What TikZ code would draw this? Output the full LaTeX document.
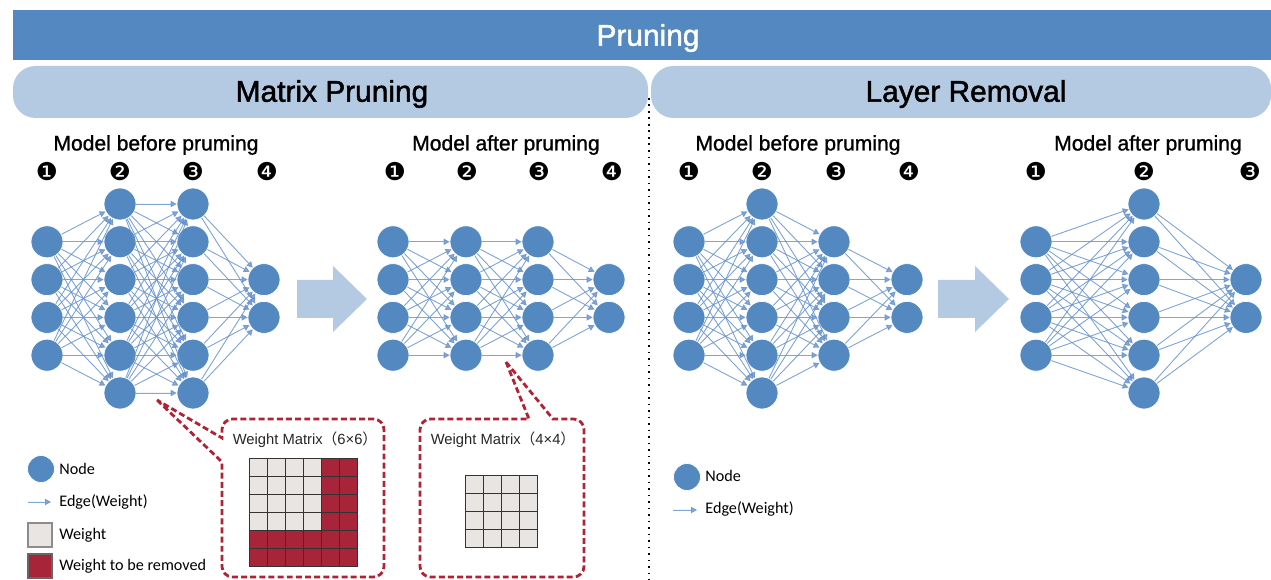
\documentclass[tikz,border=0pt]{standalone}
\usepackage{fontspec}
\setmainfont{Liberation Sans}
\newfontfamily\headfont[FakeBold=1.6]{Liberation Sans}
\newfontfamily\medfont[FakeBold=1.1]{Liberation Sans}
\newfontfamily\dingfont{DejaVu Sans}
\newfontfamily\legendfont{Carlito}
\newfontfamily\cjkfont{Noto Sans CJK SC}
\usetikzlibrary{arrows.meta}

\definecolor{barblue}{RGB}{83,137,192}
\definecolor{pillblue}{RGB}{179,202,226}
\definecolor{edgeblue}{RGB}{100,145,205}
\definecolor{calloutred}{RGB}{178,34,52}
\definecolor{cellred}{RGB}{168,36,56}
\definecolor{cellgrey}{RGB}{232,229,226}

\tikzset{
	unit/.style={circle, fill=barblue, draw=white, line width=0.4pt, minimum size=0.64cm, inner sep=0pt},
	edge/.style={-{Triangle[length=3.4pt,width=3.6pt]}, draw=edgeblue, fill=edgeblue, line width=0.5pt, opacity=0.8},
	callout/.style={calloutred, line width=1.6pt, dash pattern=on 3.4pt off 1.8pt},
	cell/.style={draw=black!80, line width=0.5pt},
	head/.style={font=\headfont\fontsize{17}{20}\selectfont},
	sub/.style={font=\medfont\fontsize{12}{14}\selectfont},
	num/.style={font=\dingfont\fontsize{14}{15}\selectfont},
	matlabel/.style={font=\fontsize{8.4}{10}\selectfont, text=black!85},
	legend/.style={font=\legendfont\fontsize{9.2}{11}\selectfont, anchor=west, inner sep=0pt},
}

\begin{document}
\begin{tikzpicture}[x=0.02cm, y=-0.02cm]
		%%%%% START %%%%%
		\useasboundingbox (0,0) rectangle (1271,580);
		
		% headers
		\fill[barblue] (13,10) rectangle (1271,60);
		\node[head, text=white] (title) at (648,38) {Pruning};
		\fill[pillblue, rounded corners=0.45cm] (13,66) rectangle (648,118);
		\node[head] (mp) at (332,94) {Matrix Pruning};
		\fill[pillblue, rounded corners=0.45cm] (651,66) rectangle (1271,118);
		\node[head] (lr) at (966,94) {Layer Removal};
		\draw[line width=1.1pt, dash pattern=on 1.1pt off 2.6pt] (649,98) -- (649,580);
		
		% titles and layer numbers
		\node[sub] (mb-t) at (156,145) {Model before pruming};
		\node[sub] (ma-t) at (506,145) {Model after pruming};
		\node[sub] (lb-t) at (798,145) {Model before pruming};
		\node[sub] (la-t) at (1148,145) {Model after pruming};
		\foreach \x/\n [count=\k] in {47/❶, 120/❷, 193/❸, 267/❹}
			\node[num] (mb-n\k) at (\x,172) {\n};
		\foreach \x/\n [count=\k] in {395/❶, 467/❷, 539/❸, 612/❹}
			\node[num] (ma-n\k) at (\x,172) {\n};
		\foreach \x/\n [count=\k] in {689/❶, 762/❷, 836/❸, 909/❹}
			\node[num] (lb-n\k) at (\x,172) {\n};
		\foreach \x/\n [count=\k] in {1036/❶, 1144/❷, 1250/❸}
			\node[num] (la-n\k) at (\x,172) {\n};
		
		%%%%% MATRIX PRUNING, BEFORE %%%%%
		\foreach \r in {1,...,4} \node[unit] (mb-1-\r) at (47,{204+37.8*\r}) {};
		\foreach \r in {0,...,5} \node[unit] (mb-2-\r) at (120,{204+37.8*\r}) {};
		\foreach \r in {0,...,5} \node[unit] (mb-3-\r) at (193,{204+37.8*\r}) {};
		\foreach \r in {2,3} \node[unit] (mb-4-\r) at (264,{204+37.8*\r}) {};
		\foreach \i in {1,...,4} \foreach \j in {0,...,5} \draw[edge] (mb-1-\i) -- (mb-2-\j);
		\foreach \i in {0,...,5} \foreach \j in {0,...,5} \draw[edge] (mb-2-\i) -- (mb-3-\j);
		\foreach \i in {0,...,5} \foreach \j in {2,3} \draw[edge] (mb-3-\i) -- (mb-4-\j);
		
		\fill[pillblue] (297,280) -- (333,280) -- (333,266) -- (367,299) -- (333,332) -- (333,318) -- (297,318) -- cycle;
		
		%%%%% MATRIX PRUNING, AFTER %%%%%
		\foreach \r in {1,...,4} \node[unit] (ma-1-\r) at (393,{204+37.8*\r}) {};
		\foreach \r in {1,...,4} \node[unit] (ma-2-\r) at (466,{204+37.8*\r}) {};
		\foreach \r in {1,...,4} \node[unit] (ma-3-\r) at (538,{204+37.8*\r}) {};
		\foreach \r in {2,3} \node[unit] (ma-4-\r) at (609,{204+37.8*\r}) {};
		\foreach \i in {1,...,4} \foreach \j in {1,...,4} \draw[edge] (ma-1-\i) -- (ma-2-\j);
		\foreach \i in {1,...,4} \foreach \j in {1,...,4} \draw[edge] (ma-2-\i) -- (ma-3-\j);
		\foreach \i in {1,...,4} \foreach \j in {2,3} \draw[edge] (ma-3-\i) -- (ma-4-\j);
		
		% weight matrices
		\draw[callout] (157,400) -- (222,462) {[rounded corners=6pt] -- (222,577) -- (384,577) -- (384,419) -- (222,419)} -- (222,438) -- cycle;
		\node[matlabel] (wm6) at (305,440) {Weight Matrix{\cjkfont （}6×6{\cjkfont ）}};
		\foreach \c in {0,...,3} \foreach \r in {0,...,3}
			\draw[cell, fill=cellgrey] ({249+18*\c},{458+18*\r}) rectangle +(18,18);
		\foreach \c in {4,5} \foreach \r in {0,...,5}
			\draw[cell, fill=cellred] ({249+18*\c},{458+18*\r}) rectangle +(18,18);
		\foreach \c in {0,...,3} \foreach \r in {4,5}
			\draw[cell, fill=cellred] ({249+18*\c},{458+18*\r}) rectangle +(18,18);
		
		\draw[callout] (506,362) -- (553,419) {[rounded corners=6pt] -- (584,419) -- (584,577) -- (420,577) -- (420,419)} -- (529,419) -- cycle;
		\node[matlabel] (wm4) at (503,440) {Weight Matrix{\cjkfont （}4×4{\cjkfont ）}};
		\foreach \c in {0,...,3} \foreach \r in {0,...,3}
			\draw[cell, fill=cellgrey] ({465+18.2*\c},{475+18.2*\r}) rectangle +(18.2,18.2);
		
		% legend
		\node[unit, minimum size=0.54cm] (leg-n) at (41,469) {};
		\node[legend] (leg-nt) at (59,469) {Node};
		\coordinate (leg-e1) at (28,502);
		\coordinate (leg-e2) at (51,502);
		\draw[edge] (leg-e1) -- (leg-e2);
		\node[legend] (leg-et) at (59,502) {Edge(Weight)};
		\draw[fill=cellgrey, draw=black!45, line width=0.8pt] (28,523) rectangle (52,547);
		\node[legend] (leg-wt) at (59,535) {Weight};
		\draw[fill=cellred, draw=black!60, line width=0.8pt] (28,554) rectangle (52,578);
		\node[legend] (leg-rt) at (59,566) {Weight to be removed};
		
		%%%%% LAYER REMOVAL, BEFORE %%%%%
		\foreach \r in {1,...,4} \node[unit] (lb-1-\r) at (689,{204+37.8*\r}) {};
		\foreach \r in {0,...,5} \node[unit] (lb-2-\r) at (762,{204+37.8*\r}) {};
		\foreach \r in {1,...,4} \node[unit] (lb-3-\r) at (834,{204+37.8*\r}) {};
		\foreach \r in {2,3} \node[unit] (lb-4-\r) at (907,{204+37.8*\r}) {};
		\foreach \i in {1,...,4} \foreach \j in {0,...,5} \draw[edge] (lb-1-\i) -- (lb-2-\j);
		\foreach \i in {0,...,5} \foreach \j in {1,...,4} \draw[edge] (lb-2-\i) -- (lb-3-\j);
		\foreach \i in {1,...,4} \foreach \j in {2,3} \draw[edge] (lb-3-\i) -- (lb-4-\j);
		
		\fill[pillblue] (938,280) -- (975,280) -- (975,266) -- (1009,299) -- (975,332) -- (975,318) -- (938,318) -- cycle;
		
		%%%%% LAYER REMOVAL, AFTER %%%%%
		\foreach \r in {1,...,4} \node[unit] (la-1-\r) at (1036,{204+37.8*\r}) {};
		\foreach \r in {0,...,5} \node[unit] (la-2-\r) at (1144,{204+37.8*\r}) {};
		\foreach \r in {2,3} \node[unit] (la-3-\r) at (1246,{204+37.8*\r}) {};
		\foreach \i in {1,...,4} \foreach \j in {0,...,5} \draw[edge] (la-1-\i) -- (la-2-\j);
		\foreach \i in {0,...,5} \foreach \j in {2,3} \draw[edge] (la-2-\i) -- (la-3-\j);
		
		% legend
		\node[unit, minimum size=0.54cm] (leg2-n) at (687,477) {};
		\node[legend] (leg2-nt) at (705,476) {Node};
		\coordinate (leg2-e1) at (673,510);
		\coordinate (leg2-e2) at (697,510);
		\draw[edge] (leg2-e1) -- (leg2-e2);
		\node[legend] (leg2-et) at (705,509) {Edge(Weight)};
		
		%%%%% END %%%%%
\end{tikzpicture}
\end{document}
